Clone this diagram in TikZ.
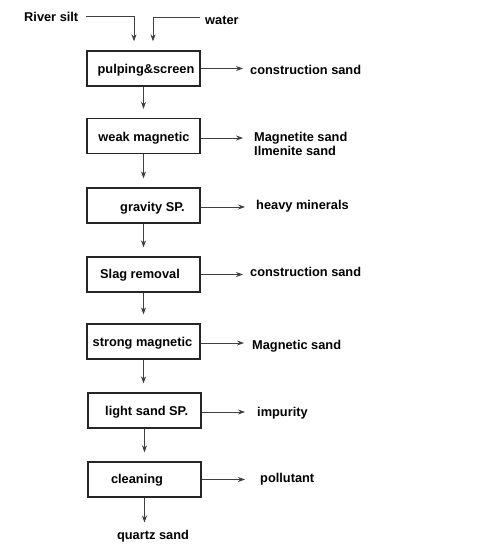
\documentclass[tikz,border=0pt]{standalone}
\usepackage{fontspec}
\setmainfont{Liberation Sans}
\usetikzlibrary{arrows.meta}
\begin{document}
\begin{tikzpicture}[x=1pt,y=-1pt,
  font=\fontsize{12.8}{14.5}\selectfont\bfseries,
  box/.style={draw=black!85, line width=1.3pt, minimum width=113pt, minimum height=35pt, inner sep=0pt},
  lab/.style={anchor=west, inner sep=0pt, align=left},
  flow/.style={draw=black!75, line width=0.8pt, -{Stealth[length=7pt,width=5pt]}}]
\useasboundingbox (0,0) rectangle (500,549);
% boxes
\node[box] (b1) at (143.5,68.5) {};
\node[box] (b2) at (143.5,136) {};
\node[box] (b3) at (143.5,205.5) {};
\node[box] (b4) at (143.5,274.5) {};
\node[box] (b5) at (143.5,341.5) {};
\node[box] (b6) at (144.5,410.5) {};
\node[box] (b7) at (144.5,479.5) {};
% box texts
\node at (146,70.5) {pulping\&screen};
\node at (144,138.5) {weak magnetic};
\node at (152.5,208) {gravity SP.};
\node at (140,275.5) {Slag removal};
\node at (142.5,343) {strong magnetic};
\node at (146.7,412) {light sand SP.};
\node at (137,480.5) {cleaning};
% inputs
\node[lab] (rs) at (24,17) {River silt};
\node[lab] (w) at (205,20) {water};
\draw[flow, shorten >=9pt] ([xshift=8pt,yshift=1pt]rs.east) -| ([xshift=-9.5pt]b1.north);
\draw[flow, shorten >=9pt] ([xshift=-5pt,yshift=3pt]w.west) -| ([xshift=9.5pt]b1.north);
% outputs
\node[lab] (l1) at (250,70) {construction sand};
\node[lab] (l2) at (254,144) {Magnetite sand\\Ilmenite sand};
\node[lab] (l3) at (256,206) {heavy minerals};
\node[lab] (l4) at (250,272) {construction sand};
\node[lab] (l5) at (252,346) {Magnetic sand};
\node[lab] (l6) at (257,413) {impurity};
\node[lab] (l7) at (260,479) {pollutant};
\node (qs) at (153,536) {quartz sand};
\draw[flow, shorten >=7pt] (b1.east) -- (b1.east -| l1.west);
\draw[flow, shorten >=11pt] ([yshift=-2pt]b2.east) -- ([yshift=-2pt]b2.east -| l2.west);
\draw[flow, shorten >=11pt] ([yshift=-1.5pt]b3.east) -- ([yshift=-1.5pt]b3.east -| l3.west);
\draw[flow, shorten >=7pt] (b4.east) -- (b4.east -| l4.west);
\draw[flow, shorten >=8pt] ([yshift=-1.5pt]b5.east) -- ([yshift=-1.5pt]b5.east -| l5.west);
\draw[flow, shorten >=12pt] ([yshift=-1.5pt]b6.east) -- ([yshift=-1.5pt]b6.east -| l6.west);
\draw[flow, shorten >=15pt] (b7.east) -- (b7.east -| l7.west);
% vertical flow
\draw[flow, shorten >=9pt] (b1.south) -- (b2.north);
\draw[flow, shorten >=9pt] (b2.south) -- (b3.north);
\draw[flow, shorten >=9pt] (b3.south) -- (b4.north);
\draw[flow, shorten >=9pt] (b4.south) -- (b5.north);
\draw[flow, shorten >=9pt] (b5.south) -- (b5.south |- b6.north);
\draw[flow, shorten >=9pt] (b6.south) -- (b7.north);
\draw[flow, shorten >=4pt] (b7.south) -- (qs.north -| b7.south);
\end{tikzpicture}
\end{document}
